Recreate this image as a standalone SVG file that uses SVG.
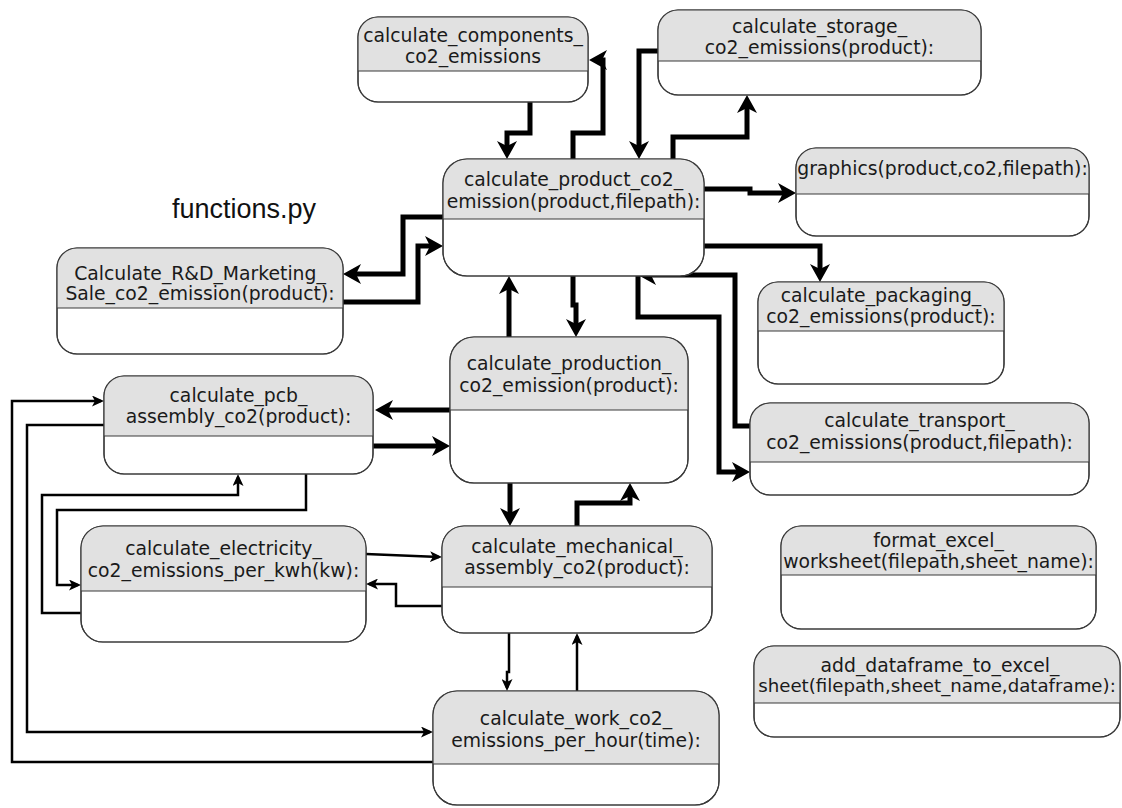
<svg xmlns="http://www.w3.org/2000/svg" width="1122" height="808" viewBox="0 0 1122 808">
  <style>
    .body { fill: #ffffff; stroke: #3a3a3a; stroke-width: 1.2; }
    .head { fill: #e1e1e1; stroke: none; }
    .div { stroke: #3a3a3a; stroke-width: 1.2; fill: none; }
    .lbl { font-family: "DejaVu Sans", Verdana, sans-serif; font-size: 18.8px; fill: #1a1a1a; text-anchor: middle; }
    .title { font-family: "Liberation Sans", Arial, sans-serif; font-size: 27px; fill: #111111; }
    .thick { fill: none; stroke: #000000; stroke-width: 5; stroke-linejoin: miter; marker-end: url(#headBig); }
    .thin { fill: none; stroke: #000000; stroke-width: 2.5; stroke-linejoin: miter; marker-end: url(#headSmall); }
  </style>
  <defs>
    <marker id="headBig" viewBox="0 0 18 20" markerUnits="userSpaceOnUse" markerWidth="18" markerHeight="20" refX="12" refY="10" orient="auto">
      <path d="M0,0 L18,10 L0,20 L5,10 Z" fill="#000000"/>
    </marker>
    <marker id="headSmall" viewBox="0 0 12 11" markerUnits="userSpaceOnUse" markerWidth="12" markerHeight="11" refX="9" refY="5.5" orient="auto">
      <path d="M0,0 L12,5.5 L0,11 L3,5.5 Z" fill="#000000"/>
    </marker>
  </defs>

  <rect width="1122" height="808" fill="#ffffff"/>

  <text class="title" x="172" y="218">functions.py</text>

  <!-- connectors -->
  <g id="connectors">
    <path class="thick" d="M530,102 V133 H507 V153"/>
    <path class="thick" d="M573,159 V133 H603 V60 H595"/>
    <path class="thick" d="M658,51 H639 V153"/>
    <path class="thick" d="M673,159 V137 H747 V101"/>
    <path class="thick" d="M704,189 H750 V193 H790"/>
    <path class="thick" d="M704,246 H820 V276"/>
    <path class="thick" d="M750,426 H735 V275 H644"/>
    <path class="thick" d="M638,276 V317 H719 V472 H744"/>
    <path class="thick" d="M443,217 H403 V274 H349"/>
    <path class="thick" d="M343,302 H418 V246 H437"/>
    <path class="thick" d="M509,337 V282"/>
    <path class="thick" d="M573,276 V305 H576 V331"/>
    <path class="thick" d="M450,410 H381"/>
    <path class="thick" d="M373,446 H444"/>
    <path class="thick" d="M510,483 V520"/>
    <path class="thick" d="M577,526 V503 H630 V489"/>

    <path class="thin" d="M366,554 L439,557"/>
    <path class="thin" d="M442,606 H396 V584 H369"/>
    <path class="thin" d="M306,474 V510 H57 V585 H78"/>
    <path class="thin" d="M81,613 H42 V495 H238 V477"/>
    <path class="thin" d="M433,762 H12 V401 H101"/>
    <path class="thin" d="M104,425 H27 V732 H430"/>
    <path class="thin" d="M509,633 V672 H507 V688"/>
    <path class="thin" d="M577,691 V636"/>
  </g>

  <!-- function boxes: rounded card, grey title band, divider -->
  <g id="components">
    <rect class="body" x="358" y="17" width="230" height="85" rx="20"/>
    <path class="head" d="M358,71 V37 A20,20 0 0 1 378,17 H568 A20,20 0 0 1 588,37 V71 Z"/>
    <rect class="body" x="358" y="17" width="230" height="85" rx="20" style="fill:none"/>
    <line class="div" x1="358" y1="71" x2="588" y2="71"/>
    <text class="lbl" x="473" y="42">calculate_components_</text>
    <text class="lbl" x="473" y="63">co2_emissions</text>
  </g>

  <g id="storage">
    <rect class="body" x="658" y="10" width="323" height="85" rx="20"/>
    <path class="head" d="M658,61 V30 A20,20 0 0 1 678,10 H961 A20,20 0 0 1 981,30 V61 Z"/>
    <rect class="body" x="658" y="10" width="323" height="85" rx="20" style="fill:none"/>
    <line class="div" x1="658" y1="61" x2="981" y2="61"/>
    <text class="lbl" x="819.5" y="33">calculate_storage_</text>
    <text class="lbl" x="819.5" y="54">co2_emissions(product):</text>
  </g>

  <g id="product">
    <rect class="body" x="443" y="159" width="261" height="117" rx="24"/>
    <path class="head" d="M443,219 V183 A24,24 0 0 1 467,159 H680 A24,24 0 0 1 704,183 V219 Z"/>
    <rect class="body" x="443" y="159" width="261" height="117" rx="24" style="fill:none"/>
    <line class="div" x1="443" y1="219" x2="704" y2="219"/>
    <text class="lbl" x="573.5" y="186">calculate_product_co2_</text>
    <text class="lbl" x="573.5" y="208">emission(product,filepath):</text>
  </g>

  <g id="graphics">
    <rect class="body" x="796" y="148" width="293" height="88" rx="20"/>
    <path class="head" d="M796,194 V168 A20,20 0 0 1 816,148 H1069 A20,20 0 0 1 1089,168 V194 Z"/>
    <rect class="body" x="796" y="148" width="293" height="88" rx="20" style="fill:none"/>
    <line class="div" x1="796" y1="194" x2="1089" y2="194"/>
    <text class="lbl" x="942.5" y="175">graphics(product,co2,filepath):</text>
  </g>

  <g id="rd_marketing">
    <rect class="body" x="57" y="248" width="286" height="106" rx="20"/>
    <path class="head" d="M57,308 V268 A20,20 0 0 1 77,248 H323 A20,20 0 0 1 343,268 V308 Z"/>
    <rect class="body" x="57" y="248" width="286" height="106" rx="20" style="fill:none"/>
    <line class="div" x1="57" y1="308" x2="343" y2="308"/>
    <text class="lbl" x="200" y="280">Calculate_R&amp;D_Marketing_</text>
    <text class="lbl" x="200" y="300">Sale_co2_emission(product):</text>
  </g>

  <g id="packaging">
    <rect class="body" x="758" y="282" width="246" height="102" rx="20"/>
    <path class="head" d="M758,331 V302 A20,20 0 0 1 778,282 H984 A20,20 0 0 1 1004,302 V331 Z"/>
    <rect class="body" x="758" y="282" width="246" height="102" rx="20" style="fill:none"/>
    <line class="div" x1="758" y1="331" x2="1004" y2="331"/>
    <text class="lbl" x="881" y="302">calculate_packaging_</text>
    <text class="lbl" x="881" y="323">co2_emissions(product):</text>
  </g>

  <g id="production">
    <rect class="body" x="450" y="337" width="238" height="146" rx="24"/>
    <path class="head" d="M450,410 V361 A24,24 0 0 1 474,337 H664 A24,24 0 0 1 688,361 V410 Z"/>
    <rect class="body" x="450" y="337" width="238" height="146" rx="24" style="fill:none"/>
    <line class="div" x1="450" y1="410" x2="688" y2="410"/>
    <text class="lbl" x="569" y="370">calculate_production_</text>
    <text class="lbl" x="569" y="392">co2_emission(product):</text>
  </g>

  <g id="transport">
    <rect class="body" x="750" y="403" width="339" height="92" rx="20"/>
    <path class="head" d="M750,462 V423 A20,20 0 0 1 770,403 H1069 A20,20 0 0 1 1089,423 V462 Z"/>
    <rect class="body" x="750" y="403" width="339" height="92" rx="20" style="fill:none"/>
    <line class="div" x1="750" y1="462" x2="1089" y2="462"/>
    <text class="lbl" x="919.5" y="427">calculate_transport_</text>
    <text class="lbl" x="919.5" y="449">co2_emissions(product,filepath):</text>
  </g>

  <g id="pcb_assembly">
    <rect class="body" x="104" y="376" width="269" height="98" rx="20"/>
    <path class="head" d="M104,436 V396 A20,20 0 0 1 124,376 H353 A20,20 0 0 1 373,396 V436 Z"/>
    <rect class="body" x="104" y="376" width="269" height="98" rx="20" style="fill:none"/>
    <line class="div" x1="104" y1="436" x2="373" y2="436"/>
    <text class="lbl" x="238.5" y="402">calculate_pcb_</text>
    <text class="lbl" x="238.5" y="423">assembly_co2(product):</text>
  </g>

  <g id="electricity">
    <rect class="body" x="81" y="526" width="285" height="116" rx="22"/>
    <path class="head" d="M81,591 V548 A22,22 0 0 1 103,526 H344 A22,22 0 0 1 366,548 V591 Z"/>
    <rect class="body" x="81" y="526" width="285" height="116" rx="22" style="fill:none"/>
    <line class="div" x1="81" y1="591" x2="366" y2="591"/>
    <text class="lbl" x="223.5" y="555">calculate_electricity_</text>
    <text class="lbl" x="223.5" y="577">co2_emissions_per_kwh(kw):</text>
  </g>

  <g id="mechanical_assembly">
    <rect class="body" x="442" y="526" width="270" height="107" rx="22"/>
    <path class="head" d="M442,587 V548 A22,22 0 0 1 464,526 H690 A22,22 0 0 1 712,548 V587 Z"/>
    <rect class="body" x="442" y="526" width="270" height="107" rx="22" style="fill:none"/>
    <line class="div" x1="442" y1="587" x2="712" y2="587"/>
    <text class="lbl" x="577" y="553">calculate_mechanical_</text>
    <text class="lbl" x="577" y="574">assembly_co2(product):</text>
  </g>

  <g id="work">
    <rect class="body" x="433" y="691" width="286" height="114" rx="24"/>
    <path class="head" d="M433,764 V715 A24,24 0 0 1 457,691 H695 A24,24 0 0 1 719,715 V764 Z"/>
    <rect class="body" x="433" y="691" width="286" height="114" rx="24" style="fill:none"/>
    <line class="div" x1="433" y1="764" x2="719" y2="764"/>
    <text class="lbl" x="576" y="725">calculate_work_co2_</text>
    <text class="lbl" x="576" y="747">emissions_per_hour(time):</text>
  </g>

  <g id="format_excel">
    <rect class="body" x="781" y="526" width="315" height="103" rx="20"/>
    <path class="head" d="M781,575 V546 A20,20 0 0 1 801,526 H1076 A20,20 0 0 1 1096,546 V575 Z"/>
    <rect class="body" x="781" y="526" width="315" height="103" rx="20" style="fill:none"/>
    <line class="div" x1="781" y1="575" x2="1096" y2="575"/>
    <text class="lbl" x="938.5" y="547">format_excel_</text>
    <text class="lbl" x="938.5" y="568">worksheet(filepath,sheet_name):</text>
  </g>

  <g id="add_dataframe">
    <rect class="body" x="754" y="646" width="366" height="91" rx="20"/>
    <path class="head" d="M754,703 V666 A20,20 0 0 1 774,646 H1100 A20,20 0 0 1 1120,666 V703 Z"/>
    <rect class="body" x="754" y="646" width="366" height="91" rx="20" style="fill:none"/>
    <line class="div" x1="754" y1="703" x2="1120" y2="703"/>
    <text class="lbl" x="940" y="672">add_dataframe_to_excel_</text>
    <text class="lbl" x="937" y="692" style="font-size:18.2px">sheet(filepath,sheet_name,dataframe):</text>
  </g>
</svg>
